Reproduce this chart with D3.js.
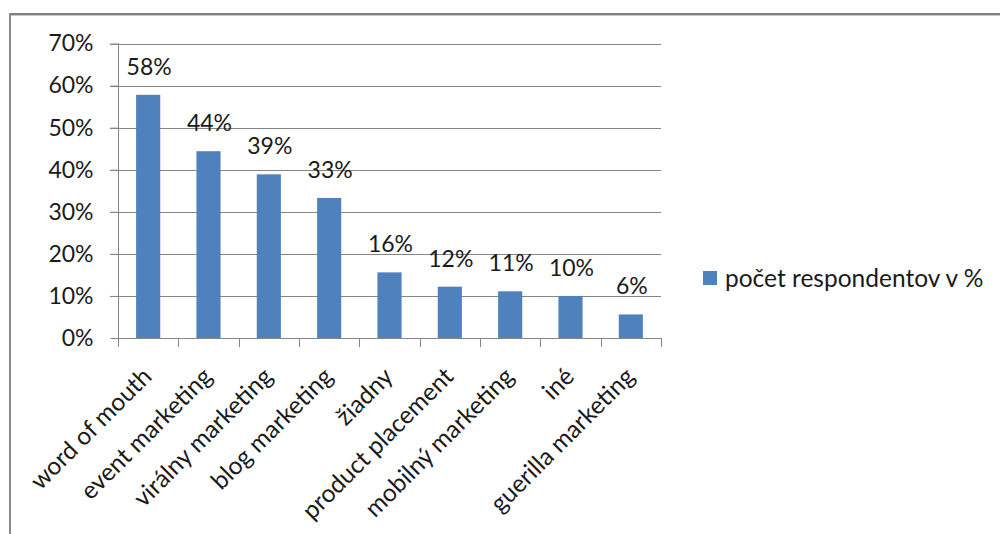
<!DOCTYPE html>
<html><head><meta charset="utf-8">
<script src="https://cdn.jsdelivr.net/npm/d3@7"></script>
<style>body{margin:0;background:#fff}svg{display:block}text{font-family:Lato,"Noto Sans",sans-serif;fill:#1a1a1a}</style>
</head><body><svg id="c" width="1000" height="534"></svg>
<script>
const categories = ["word of mouth","event marketing","virálny marketing","blog marketing","žiadny","product placement","mobilný marketing","iné","guerilla marketing"];
const values = [0.578,0.444,0.389,0.333,0.156,0.122,0.111,0.100,0.056];
const valueLabels = ["58%","44%","39%","33%","16%","12%","11%","10%","6%"];
const yTicks = [0,0.1,0.2,0.3,0.4,0.5,0.6,0.7];
const seriesName = "počet respondentov v %";

const svg = d3.select("#c");
const fsNum = 23, fsTxt = 24.5;
// frame
svg.append("line").attr("x1",10).attr("x2",1000).attr("y1",14).attr("y2",14).attr("stroke","#7f7f7f").attr("stroke-width",2);
svg.append("line").attr("x1",10).attr("x2",1000).attr("y1",15.5).attr("y2",15.5).attr("stroke","#c8c8c8").attr("stroke-width",1);
svg.append("line").attr("x1",10).attr("x2",10).attr("y1",13).attr("y2",534).attr("stroke","#8a8a8a").attr("stroke-width",2);

const x = d3.scaleBand().domain(categories).range([118,661]).paddingInner(0.6).paddingOuter(0.3);
const y = d3.scaleLinear().domain([0,0.7]).range([338,43.5]);

// gridlines
svg.append("g").selectAll("line").data(yTicks.slice(1)).join("line")
  .attr("x1",110).attr("x2",661).attr("y1",d=>Math.round(y(d))+0.5).attr("y2",d=>Math.round(y(d))+0.5)
  .attr("stroke","#868686").attr("stroke-width",1);

// y axis
const yAxis = svg.append("g").attr("transform","translate(118.5,0)")
  .call(d3.axisLeft(y).tickValues(yTicks).tickFormat(d3.format(".0%")).tickSize(8).tickPadding(17));
yAxis.select(".domain").attr("stroke","#868686").attr("d","M0,"+y(0.7)+"V"+y(0));
yAxis.selectAll(".tick line").attr("stroke","#868686");
yAxis.selectAll("text").style("font-size",fsNum+"px").attr("fill","#1a1a1a");

// x axis
const half = (x.step()-x.bandwidth())/2;
const bounds = categories.map(c=>x(c)-half).concat([x.range()[1]]);
svg.append("line").attr("x1",118).attr("x2",661).attr("y1",338.5).attr("y2",338.5).attr("stroke","#868686");
svg.append("g").selectAll("line").data(bounds).join("line")
  .attr("x1",d=>Math.round(d)+0.5).attr("x2",d=>Math.round(d)+0.5).attr("y1",338).attr("y2",347)
  .attr("stroke","#868686");

// bars
svg.append("g").selectAll("rect").data(values).join("rect")
  .attr("x",(d,i)=>x(categories[i])).attr("width",x.bandwidth())
  .attr("y",d=>y(d)).attr("height",d=>y(0)-y(d)).attr("fill","#4f81bd");

// value labels
svg.append("g").selectAll("text").data(values).join("text")
  .attr("x",(d,i)=>x(categories[i])+x.bandwidth()/2+1).attr("y",d=>y(d)-20)
  .attr("text-anchor","middle").style("font-size",fsNum+"px").text((d,i)=>valueLabels[i]);

// category labels
svg.append("g").selectAll("text").data(categories).join("text")
  .attr("transform",d=>`translate(${x(d)+x.bandwidth()/2-1},${372}) rotate(-45)`)
  .attr("text-anchor","end").attr("dy","0.35em").style("font-size",fsTxt+"px").text(d=>d);

// legend
svg.append("rect").attr("x",703).attr("y",271).attr("width",14).attr("height",14).attr("fill","#4f81bd");
svg.append("text").attr("x",725).attr("y",287).style("font-size",fsTxt+"px").text(seriesName);
</script></body></html>
